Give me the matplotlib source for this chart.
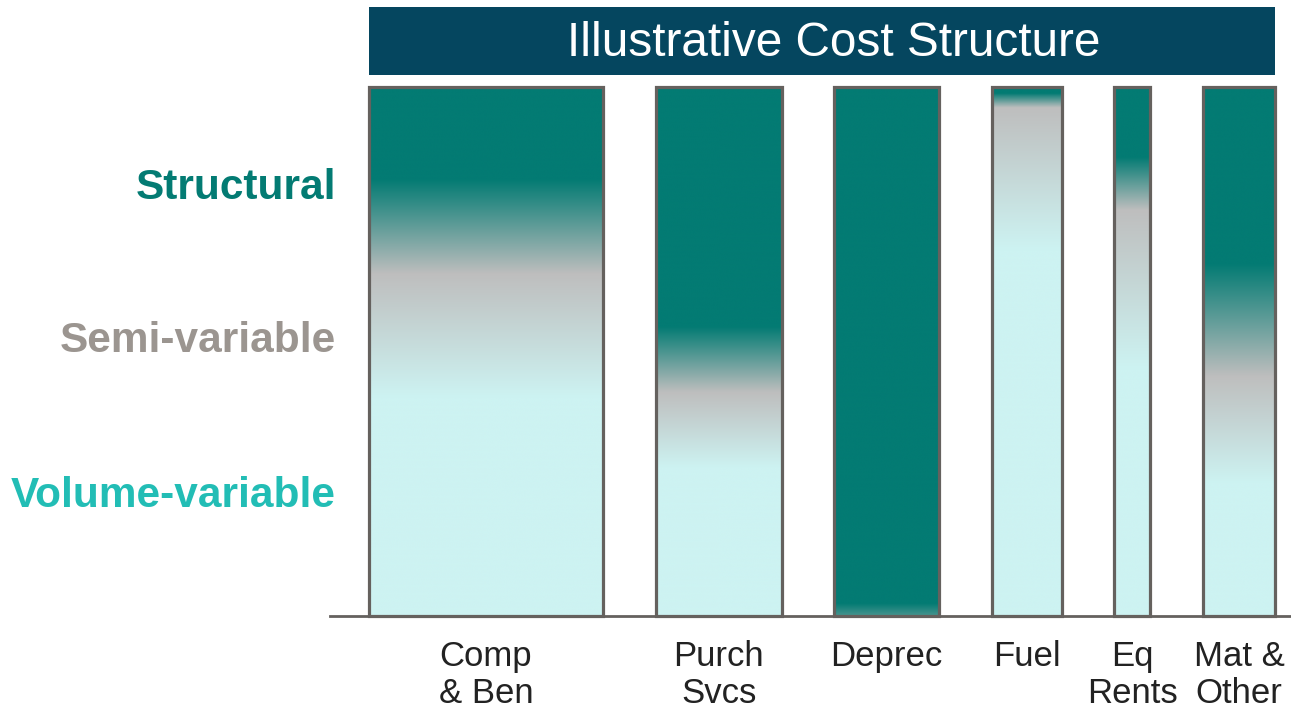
import numpy as np
import matplotlib
matplotlib.use("Agg")
import matplotlib.pyplot as plt
from matplotlib.patches import Rectangle
from matplotlib.lines import Line2D
from matplotlib.colors import to_rgb

plt.rcParams['font.family'] = ['Liberation Sans', 'DejaVu Sans']

# ---- data ----
categories = ["Comp\n& Ben", "Purch\nSvcs", "Deprec", "Fuel", "Eq\nRents", "Mat &\nOther"]
cost_share = [36.4, 19.6, 16.3, 10.9, 5.6, 11.2]          # bar widths (% of cost)
# gradient stops, % of bar height measured from bottom
structural_end = [82.6, 54.7, 2.3, 98.9, 86.8, 66.6]     # solid teal above this
semi_peak = [64.7, 42.3, -4.0, 96.2, 76.8, 45.3]         # grey peak
variable_start = [41.3, 27.9, -10.0, 69.2, 46.6, 25.1]   # solid light cyan below this
row_labels = ["Structural", "Semi-variable", "Volume-variable"]
title = "Illustrative Cost Structure"

# ---- style ----
TEAL = "#037B73"
GREY = "#BEBEBE"
CYAN = "#CDF3F2"
EDGE = "#65615E"
BANNER = "#05465F"
label_colors = ["#037B73", "#9B9590", "#22BDB5"]

W, H = 1291, 708
fig = plt.figure(figsize=(W / 100, H / 100), dpi=100)

left_px, right_px, top_px, bot_px = 369, 1275, 87, 616
ax = fig.add_axes([left_px / W, (H - bot_px) / H, (right_px - left_px) / W, (bot_px - top_px) / H])
gap = 8.18
total = sum(cost_share) + gap * (len(cost_share) - 1)
ax.axis("off")

yy = np.linspace(0, 100, 600)
c_teal, c_grey, c_cyan = map(np.array, (to_rgb(TEAL), to_rgb(GREY), to_rgb(CYAN)))

x = 0.0
for i, w in enumerate(cost_share):
    pos = [variable_start[i], semi_peak[i], structural_end[i]]
    cols = np.array([c_cyan, c_grey, c_teal])
    img = np.stack([np.interp(yy, pos, cols[:, k]) for k in range(3)], axis=-1)
    img = img[:, None, :]
    ax.imshow(img, extent=[x, x + w, 0, 100], origin="lower", aspect="auto",
              interpolation="bilinear", zorder=1)
    ax.add_patch(Rectangle((x, 0), w, 100, facecolor="none", edgecolor=EDGE,
                           linewidth=2.3, zorder=2, clip_on=False))
    ax.annotate(categories[i], xy=(x + w / 2, 0), xycoords="data",
                xytext=(0, -17), textcoords="offset points",
                ha="center", va="top", fontsize=25, color="#222222",
                linespacing=1.17, multialignment="center")
    x += w + gap

ax.set_xlim(0, total)
ax.set_ylim(0, 100)

# baseline
fig.add_artist(Line2D([330 / W, 1.0], [(H - 616) / H] * 2, color=EDGE, lw=2.0))

# banner
fig.add_artist(Rectangle((369 / W, (H - 75) / H), (1275 - 369) / W, 68 / H,
                         facecolor=BANNER, edgecolor="none", transform=fig.transFigure))
fig.text(834 / W, (H - 44) / H, title, ha="center", va="center", color="white", fontsize=34.4)

# row labels
for lbl, yc, col in zip(row_labels, [188, 341, 496], label_colors):
    fig.text(336 / W, (H - yc) / H, lbl, ha="right", va="center", color=col,
             fontsize=30.5, fontweight="bold")

fig.savefig("out.png", dpi=100)
